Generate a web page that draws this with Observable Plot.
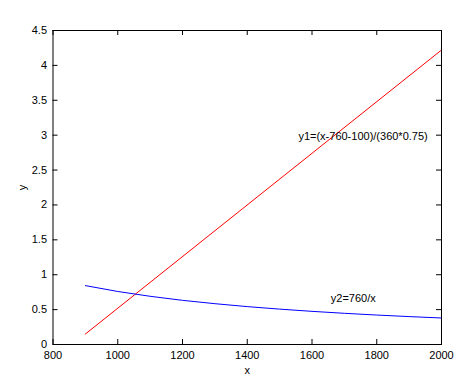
<!DOCTYPE html>
<html>
<head>
<meta charset="utf-8">
<script src="https://cdn.jsdelivr.net/npm/d3@7"></script>
<script src="https://cdn.jsdelivr.net/npm/@observablehq/plot@0.6"></script>
<style>
  html, body { margin: 0; padding: 0; background: #fff; }
  svg { display: block; }
</style>
</head>
<body>
<div id="chart"></div>
<script>
// Series 1: y1 = (x-760-100)/(360*0.75), straight line
const y1X = [900, 2000];
const y1Y = [0.15, 4.22];
// Series 2: y2 = 760/x
const y2X = [900, 1000, 1100, 1200, 1300, 1400, 1500, 1600, 1700, 1800, 1900, 2000];
const y2Y = [0.844, 0.76, 0.691, 0.633, 0.585, 0.543, 0.507, 0.475, 0.447, 0.422, 0.40, 0.38];
// Tick labels
const xTicks = [800, 1000, 1200, 1400, 1600, 1800, 2000];
const yTicks = [0, 0.5, 1, 1.5, 2, 2.5, 3, 3.5, 4, 4.5];
// Annotations
const labels = [
  {x: 1558, y: 2.98, text: "y1=(x-760-100)/(360*0.75)"},
  {x: 1658, y: 0.66, text: "y2=760/x"}
];

const W = 476, H = 385;
const mL = 52.5, mR = 35, mT = 30, mB = 41;
const innerH = H - mT - mB, innerW = W - mL - mR;
const tk = 5;

const line1 = y1X.map((x, i) => ({x, y: y1Y[i]}));
const line2 = y2X.map((x, i) => ({x, y: y2Y[i]}));

const plot = Plot.plot({
  width: W,
  height: H,
  marginLeft: mL,
  marginRight: mR,
  marginTop: mT,
  marginBottom: mB,
  style: {fontFamily: "Arial, 'Liberation Sans', sans-serif", fontSize: "11px", color: "#000", background: "#fff"},
  x: {domain: [800, 2000], ticks: xTicks},
  y: {domain: [0, 4.5], ticks: yTicks},
  marks: [
    Plot.axisX(xTicks, {tickSize: 0, tickPadding: 7, tickFormat: d => String(d), label: "x", labelAnchor: "center", labelArrow: "none", labelOffset: 29, fontSize: 11}),
    Plot.axisY(yTicks, {tickSize: 0, tickPadding: 6, tickFormat: d => String(d), label: "y", labelAnchor: "center", labelArrow: "none", labelOffset: 35, fontSize: 11}),
    // inward ticks, bottom & top
    Plot.tickX(xTicks, {x: d => d, insetTop: innerH - tk, stroke: "#000"}),
    Plot.tickX(xTicks, {x: d => d, insetBottom: innerH - tk, stroke: "#000"}),
    // inward ticks, left & right
    Plot.tickY(yTicks, {y: d => d, insetRight: innerW - tk, stroke: "#000"}),
    Plot.tickY(yTicks, {y: d => d, insetLeft: innerW - tk, stroke: "#000"}),
    Plot.line(line1, {x: "x", y: "y", stroke: "#ff0000", strokeWidth: 1}),
    Plot.line(line2, {x: "x", y: "y", stroke: "#0000ff", strokeWidth: 1}),
    Plot.text(labels, {x: "x", y: "y", text: "text", textAnchor: "start", fill: "#000", fontSize: 11}),
    Plot.frame({stroke: "#000", strokeWidth: 1})
  ]
});
document.getElementById("chart").appendChild(plot);
</script>
</body>
</html>
